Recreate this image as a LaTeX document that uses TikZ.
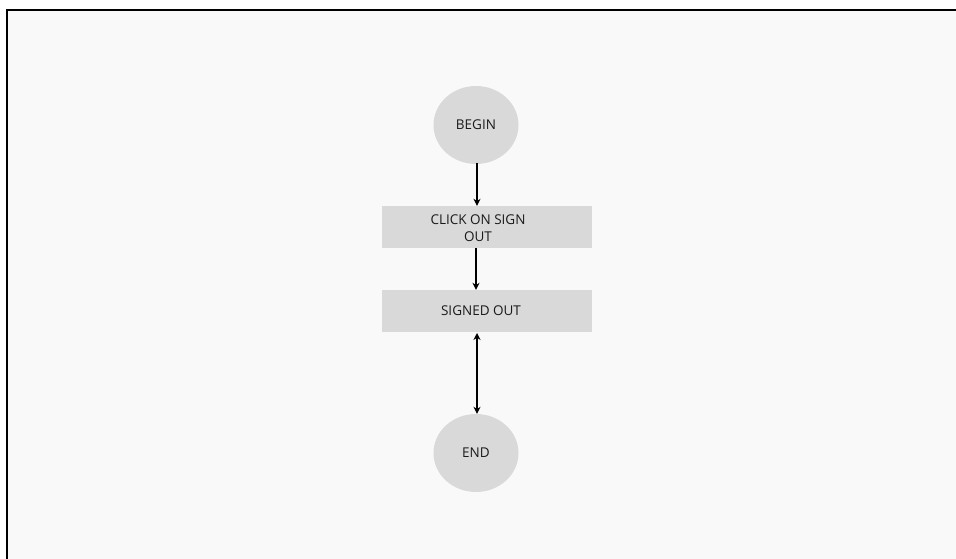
\documentclass[tikz,border=0pt]{standalone}
\usepackage{fontspec}
\setmainfont{Open Sans}
\usetikzlibrary{arrows.meta,shapes.geometric}
\definecolor{bgc}{HTML}{F9F9F9}
\definecolor{nodec}{HTML}{D9D9D9}
\definecolor{txtc}{HTML}{1A1A1A}
\tikzset{
  term/.style={ellipse, fill=nodec, minimum width=85pt, minimum height=78pt, inner sep=0pt, font=\fontsize{13.5}{17}\selectfont, text=txtc},
  stepbox/.style={rectangle, fill=nodec, minimum width=210pt, minimum height=42pt, inner sep=0pt},
  lbl/.style={inner sep=0pt, font=\fontsize{13.5}{17}\selectfont, text=txtc, align=center},
  conn/.style={line width=1.8pt, -{Stealth[length=7pt,width=7pt]}},
  conn2/.style={line width=1.8pt, {Stealth[length=7pt,width=7pt]}-{Stealth[length=7pt,width=7pt]}}
}
\begin{document}
\begin{tikzpicture}[x=1pt,y=-1pt]
\useasboundingbox (0,0) rectangle (956,559);
\fill[white] (0,0) rectangle (956,559);
\fill[bgc] (7,10) rectangle (956,559);
\draw[line width=2pt] (7,559) -- (7,10) -- (956,10);
\node[term] (begin) at (476,125) {BEGIN};
\node[stepbox] (click) at (487,227) {};
\node[lbl] (clicktxt) at (478,228) {CLICK ON SIGN\\OUT};
\node[stepbox] (signed) at (487,311) {};
\node[lbl] (signedtxt) at (481,311) {SIGNED OUT};
\node[term] (end) at (476,453) {END};
\draw[conn] (477,163) coordinate (c0) -- (c0 |- click.north);
\draw[conn] (476,248) coordinate (c1) -- (c1 |- signed.north);
\draw[conn2] (477,333) coordinate (c2) -- (c2 |- end.north);
\end{tikzpicture}
\end{document}
